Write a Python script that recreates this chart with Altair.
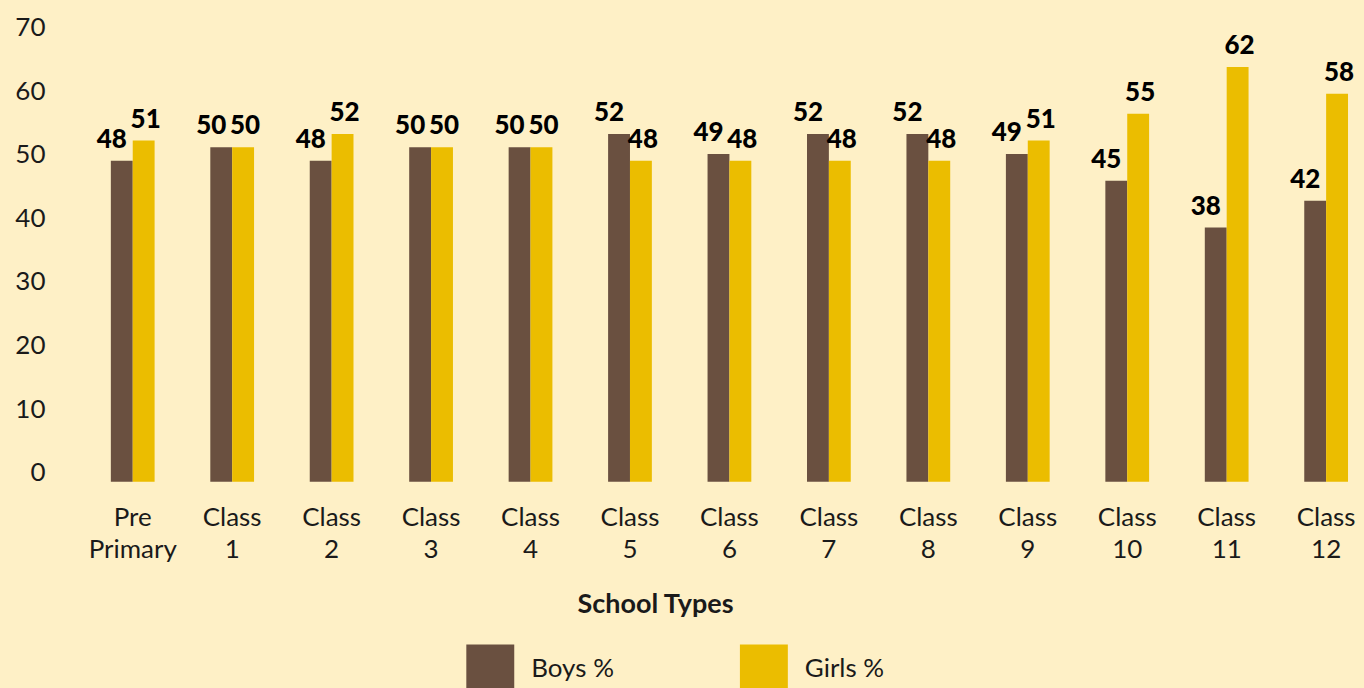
import altair as alt
import pandas as pd
import jinja2

categories = ["Pre Primary", "Class 1", "Class 2", "Class 3", "Class 4", "Class 5",
              "Class 6", "Class 7", "Class 8", "Class 9", "Class 10", "Class 11", "Class 12"]
boys = [48, 50, 48, 50, 50, 52, 49, 52, 52, 49, 45, 38, 42]
girls = [51, 50, 52, 50, 50, 48, 48, 48, 48, 51, 55, 62, 58]
series = ["Boys %", "Girls %"]
y_ticks = [0, 10, 20, 30, 40, 50, 60, 70]

BROWN = "#6A5040"
YELLOW = "#EBBD00"
BG = "#FEF0C6"
INK = "#1A1A1A"
FONT = "Lato"

rows = []
for c, b, g in zip(categories, boys, girls):
    rows.append({"cat": c, "series": "Boys %", "value": b})
    rows.append({"cat": c, "series": "Girls %", "value": g})
df = pd.DataFrame(rows)

x_enc = alt.X(
    "cat:N", sort=categories,
    scale=alt.Scale(paddingInner=0.56, paddingOuter=0),
    axis=alt.Axis(
        title="School Types", labelExpr="split(datum.label, ' ')", labelAngle=0,
        labelFont=FONT, labelFontSize=26, labelLineHeight=32, labelPadding=23,
        labelColor=INK, domain=False, ticks=False,
        titleFont=FONT, titleFontSize=27, titleFontWeight="bold", titleColor=INK,
        titleX=545, titleY=123, titleAlign="center", titleBaseline="middle",
        titleAnchor="start",
    ),
)
xoff = alt.XOffset("series:N", sort=series, scale=alt.Scale(paddingInner=0, paddingOuter=0))
y_enc = alt.Y("value:Q", scale=alt.Scale(domain=[0, 70], nice=False), axis=None)

color = alt.Color(
    "series:N", sort=series,
    scale=alt.Scale(domain=series, range=[BROWN, YELLOW]),
    legend=alt.Legend(
        title=None, orient="none", direction="horizontal", legendX=356, legendY=632,
        symbolType="square", symbolSize=2304, symbolStrokeWidth=0, symbolOpacity=1,
        labelFont=FONT, labelFontSize=26, labelColor=INK, labelOffset=17,
        columnPadding=126,
    ),
)

bars = alt.Chart(df).mark_bar().encode(x=x_enc, xOffset=xoff, y=y_enc, color=color)

boys_text = alt.Chart(df).transform_filter("datum.series == 'Boys %'").mark_text(
    dy=-8, dx=-10, baseline="bottom", align="center", fontSize=26, fontWeight=900,
    font=FONT, color="#000000"
).encode(x=x_enc, xOffset=xoff, y=y_enc, text="value:Q")

girls_text = alt.Chart(df).transform_filter("datum.series == 'Girls %'").mark_text(
    dy=-8, dx=2, baseline="bottom", align="center", fontSize=26, fontWeight=900,
    font=FONT, color="#000000"
).encode(x=x_enc, xOffset=xoff, y=y_enc, text="value:Q")

axis_df = pd.DataFrame({"tick": y_ticks})
axis_layer = alt.Chart(axis_df).mark_point(opacity=0).encode(
    y=alt.Y(
        "tick:Q",
        scale=alt.Scale(domain=[-1.41, 72.2], nice=False, zero=False),
        axis=alt.Axis(
            orient="left", title=None, values=y_ticks, grid=False, domain=False, ticks=False,
            labelFont=FONT, labelFontSize=26, labelColor=INK, labelPadding=5, offset=61,
            labelAlign="right", labelBaseline="middle",
        ),
    )
)

chart = alt.layer(bars, boys_text, girls_text, axis_layer).resolve_scale(
    y="independent"
).properties(
    width=1239, height=469, background=BG,
    padding={"left": 6, "top": 5, "right": 0, "bottom": 5},
).configure_view(stroke=None)

PAGE = jinja2.Template("""<!DOCTYPE html>
<html>
<head>
<meta charset="utf-8">
<style>
html, body { background: """ + BG + """; }
#{{ output_div }}.vega-embed { width: 100%; display: flex; }
</style>
<script type="text/javascript" src="{{ base_url }}/vega@{{ vega_version }}"></script>
<script type="text/javascript" src="{{ base_url }}/vega-lite@{{ vegalite_version }}"></script>
<script type="text/javascript" src="{{ base_url }}/vega-embed@{{ vegaembed_version }}"></script>
</head>
<body>
<div id="{{ output_div }}"></div>
<script type="text/javascript">
  vegaEmbed("#{{ output_div }}", {{ spec }}, {{ embed_options }}).catch(console.error);
</script>
</body>
</html>""")

chart.save("out.html", embed_options={"renderer": "svg", "actions": False}, template=PAGE)
